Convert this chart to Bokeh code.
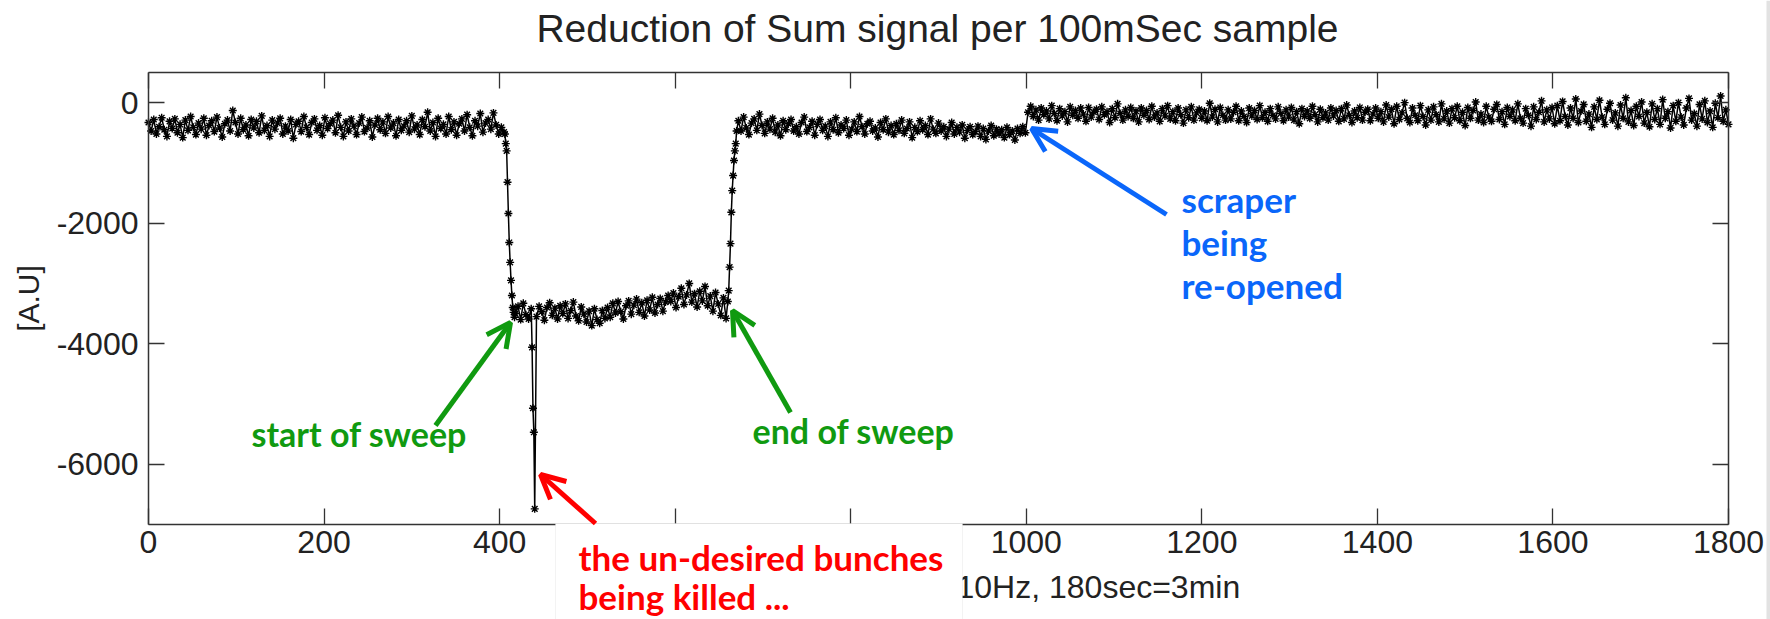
from bokeh.plotting import figure
from bokeh.models import LinearAxis, FixedTicker, Label, Arrow, OpenHead, Range1d, BoxAnnotation
from bokeh.embed import file_html
from bokeh.resources import INLINE
import math

# ---------------- data (Sum signal reduction per sample) -------------
x_ticks = [0, 200, 400, 600, 800, 1000, 1200, 1400, 1600, 1800]
y_ticks = [-6000, -4000, -2000, 0]
y_tick_labels = ["-6000", "-4000", "-2000", "0"]

# samples 0..405, every 3rd sample
before_sweep = [
    -330, -470, -280, -520, -400, -250, -450, -560, -310, -430,
    -270, -500, -360, -580, -290, -460, -230, -410, -530, -340,
    -440, -260, -540, -380, -300, -480, -240, -420, -570, -350,
    -290, -470, -130, -330, -520, -260, -450, -370, -550, -280,
    -420, -310, -500, -220, -460, -380, -560, -290, -440, -340,
    -260, -520, -390, -470, -280, -590, -360, -310, -480, -230,
    -410, -530, -330, -270, -460, -380, -540, -250, -430, -350,
    -290, -500, -210, -410, -560, -320, -470, -270, -390, -530,
    -340, -240, -480, -420, -300, -570, -370, -260, -450, -320,
    -510, -230, -420, -340, -550, -280, -460, -390, -300, -490,
    -220, -440, -370, -530, -280, -400, -160, -470, -330, -560,
    -260, -430, -360, -520, -230, -450, -320, -540, -350, -270,
    -470, -200, -410, -550, -300, -390, -180, -490, -340, -280,
    -440, -170, -370, -520, -410, -490,
]
# samples 406..417, start of sweep
sweep_drop = [-520, -680, -800, -1320, -1840, -2320, -2650, -2950, -3200, -3400, -3480, -3560]
# samples 418..436, every 3rd sample
sweep_floor_a = [-3500, -3380, -3600, -3330, -3520, -3590, -3420]
# samples 437..440, un-desired bunches being killed
killed_spike = [-4060, -5070, -5470, -6740]
# samples 442..658, every 3rd sample
sweep_floor_b = [
    -3550, -3380, -3470, -3610, -3400, -3320, -3530, -3410, -3590, -3370,
    -3500, -3340, -3580, -3450, -3310, -3540, -3620, -3390, -3510,
    -3640, -3460, -3700, -3420, -3600, -3660, -3450, -3580,
    -3400, -3560, -3330, -3490, -3300, -3470, -3590, -3370, -3290, -3510,
    -3360, -3260, -3480, -3320, -3540, -3280, -3440, -3230, -3490, -3350,
    -3250, -3460, -3310, -3200,
    -3300, -3160, -3400, -3220, -3080, -3350, -3190, -3000, -3310, -3170,
    -3390, -3130, -3290, -3050, -3370, -3210, -3460, -3150, -3340, -3530,
    -3240, -3580,
]
# samples 660..670, end of sweep
sweep_rise = [-3300, -3120, -2730, -2340, -1820, -1460, -1210, -960, -800, -680, -470]
# samples 672..999, every 3rd sample
after_sweep = [
    -300, -470, -240, -420, -530, -340, -270, -460, -190, -380,
    -510, -320, -440, -260, -490, -370, -550, -300, -450, -350,
    -280, -470, -400, -520, -330, -240, -480, -410, -310, -540,
    -360, -280, -460, -390, -560, -320, -450, -250, -500, -370,
    -430, -290, -540, -440, -320, -480, -230, -400, -520, -350,
    -310, -470, -420, -570, -330, -450, -270, -490, -380, -530,
    -350, -460, -290, -510, -430, -320, -580, -410, -480, -300,
    -450, -380, -530, -270, -440, -510, -340, -470, -400, -560,
    -440, -330, -520, -410, -490, -370, -590, -460, -400, -530,
    -480, -390, -560, -430, -610, -470, -380, -550, -440, -520,
    -450, -580, -410, -530, -470, -620, -430, -510, -400, -500,
]
# samples 1002..1800, every 3rd sample (scraper re-opened)
scraper_open = [
    -160, -60, -230, -120, -290, -90, -200, -140, -270, -50,
    -180, -300, -100, -220, -150, -320, -70, -210, -130, -260,
    -90, -190, -310, -80, -240, -160, -110, -280, -70, -200,
    -150, -330, -100, -250, -20, -180, -290, -120, -230, -80,
    -260, -140, -320, -90, -210, -130, -280, -60, -240, -170,
    -310, -100, -220, -50, -270, -150, -300, -90, -200, -340,
    -120, -250, -70, -290, -170, -110, -260,
    -140, -300, -10, -240, -110, -320, -80, -210, -290, -120,
    -270, -160, -60, -300, -140, -230, -330, -90, -220, -130,
    -280, -50, -250, -160, -310, -100, -210, -270, -70, -180,
    -300, -120, -240, -80, -290, -150, -350, -100, -230, -140,
    -260, -60, -200, -320, -110, -250, -170, -290, -90, -220,
    -130, -310, -100, -270, -40, -210, -330, -140, -250, -80,
    -290, -160, -110, -300, -190, -90, -260,
    -150, -320, -40, -240, -110, -350, -60, -280, -170, 0,
    -260, -330, -90, -210, -300, -50, -230, -370, -120, -290,
    -70, -200, -320, -20, -270, -140, -340, -100, -250, -60,
    -300, -160, -380, -80, -260, -130, 10, -290, -190, -330,
    -60, -240, -310, -110, -30, -280, -150, -360, -80, -230,
    -120, -300, -20, -260, -340, -100, -210, -390, -70, -280,
    -160, 30, -320, -120, -270, -80, -350,
    -50, -300, 20, -230, -370, -90, -260, 60, -330, -140,
    -30, -310, -190, -410, -70, -280, 40, -240, -360, -110,
    -10, -290, -170, -390, -40, -260, 80, -320, -130, -380,
    -60, -230, 10, -340, -160, -400, -20, -280, -100, -360,
    50, -260, -150, -420, -50, -310, 0, -240, -370, -90,
    70, -290, -180, -390, -30, -270, 30, -330, -140, -410,
    -10, -250, 110, -310, -120, -360,
]

segments = [
    (0, 3, before_sweep),
    (406, 1, sweep_drop),
    (418, 3, sweep_floor_a),
    (437, 1, killed_spike),
    (442, 3, sweep_floor_b),
    (660, 1, sweep_rise),
    (672, 3, after_sweep),
    (1002, 3, scraper_open),
]
xs, ys = [], []
for start, step, vals in segments:
    for i, v in enumerate(vals):
        xs.append(start + step * i)
        ys.append(v)

# ---------------- layout geometry -------------
X0, X1, Y0, Y1 = 0, 1800, -7000, 500          # axes box, data units
FL, FR, FT, FB = 148, 1728, 72, 524           # axes box, pixels
W, H = 1770, 619

def dx(px):
    return X0 + (px - FL) / (FR - FL) * (X1 - X0)

def dy(py):
    return Y1 - (py - FT) / (FB - FT) * (Y1 - Y0)

AX_FONT = "Liberation Sans"
TICK_COLOR = "#222222"
AXIS_COLOR = "#333333"

# the plotting frame covers the whole canvas; the axes are drawn at fixed locations
p = figure(width=W, height=H, x_range=Range1d(dx(0), dx(W)), y_range=Range1d(dy(H), dy(0)),
           output_backend="svg", toolbar_location=None,
           x_axis_location=None, y_axis_location=None, min_border=0)
p.background_fill_color = "white"
p.border_fill_color = "white"
p.outline_line_color = None
p.grid.visible = False

def make_axis(ticks, loc, bounds, show_labels, standoff=0):
    ax = LinearAxis(ticker=FixedTicker(ticks=ticks), fixed_location=loc, bounds=bounds)
    ax.major_tick_in = 16
    ax.major_tick_out = 0
    ax.minor_tick_line_color = None
    ax.axis_line_color = AXIS_COLOR
    ax.axis_line_width = 1.5
    ax.major_tick_line_color = AXIS_COLOR
    ax.major_tick_line_width = 1.3
    ax.major_label_text_font = AX_FONT
    ax.major_label_standoff = standoff
    if show_labels:
        ax.major_label_text_color = TICK_COLOR
        ax.major_label_text_font_size = "32px"
    else:
        ax.major_label_text_color = None
        ax.major_label_text_alpha = 0
    return ax

bottom_ax = make_axis(x_ticks, Y0, (X0, X1), True, 6)
bottom_ax.major_label_overrides = {600: "", 800: ""}
p.add_layout(bottom_ax, "below")

left_ax = make_axis(y_ticks, X0, (Y0, Y1), True, 10)
left_ax.major_label_overrides = dict(zip(y_ticks, y_tick_labels))
p.add_layout(left_ax, "left")

p.add_layout(make_axis(x_ticks, Y1, (X0, X1), False), "above")
p.add_layout(make_axis(y_ticks, X1, (Y0, Y1), False), "right")

# signal
p.line(xs, ys, line_color="black", line_width=1.5)
p.scatter(xs, ys, marker="asterisk", size=8, line_color="black", line_width=1.4)

# plot texts
def text(txt, px, py, size, color=TICK_COLOR, font=AX_FONT, align="left", baseline="middle",
         bold=False, angle=0.0, level="annotation"):
    p.add_layout(Label(x=dx(px), y=dy(py), text=txt, text_align=align, text_baseline=baseline,
                       text_font=font, text_font_size=size, text_color=color, angle=angle,
                       text_font_style="bold" if bold else "normal", level=level))

text("Reduction of Sum signal per 100mSec sample", 937, 28, "39px", align="center")
text("[A.U]", 28, 298, "30px", align="center", angle=math.pi / 2)
text("10Hz, 180sec=3min", 956, 586, "32px")

# thin grey edge at the right of the picture
p.add_layout(BoxAnnotation(left=dx(1766), right=dx(W + 2), fill_color="#e2e2e2",
                           fill_alpha=1.0, line_color=None))

# white box (with its note) that hides part of the x axis
p.add_layout(BoxAnnotation(left=dx(555), right=dx(962), top=dy(523), bottom=dy(H + 5),
                           fill_color="white", fill_alpha=1.0, line_color="#d6d6d6",
                           line_width=1, level="annotation"))

GREEN = "#109A10"
BLUE = "#0A66FA"
RED = "#FF0000"
ANN_FONT = "Lato"

def arrow(tx, ty, hx, hy, color):
    p.add_layout(Arrow(x_start=dx(tx), y_start=dy(ty), x_end=dx(hx), y_end=dy(hy),
                       line_color=color, line_width=5,
                       end=OpenHead(size=24, line_width=5, line_color=color), level="overlay"))

text("start of sweep", 251, 433, "34px", GREEN, ANN_FONT, baseline="alphabetic", bold=True, level="overlay")
text("end of sweep", 752, 430, "34px", GREEN, ANN_FONT, baseline="alphabetic", bold=True, level="overlay")
text("scraper", 1181, 198, "35px", BLUE, ANN_FONT, baseline="alphabetic", bold=True, level="overlay")
text("being", 1181, 241, "35px", BLUE, ANN_FONT, baseline="alphabetic", bold=True, level="overlay")
text("re-opened", 1181, 284, "35px", BLUE, ANN_FONT, baseline="alphabetic", bold=True, level="overlay")
text("the un-desired bunches", 578, 556, "35px", RED, ANN_FONT, baseline="alphabetic", bold=True, level="overlay")
text("being killed ...", 578, 595, "35px", RED, ANN_FONT, baseline="alphabetic", bold=True, level="overlay")

arrow(435, 425, 510, 322, GREEN)
arrow(790, 412, 732, 310, GREEN)
arrow(1166, 214, 1031, 128, BLUE)
arrow(595, 523, 540, 474, RED)

open("out.html", "w").write(file_html(p, INLINE))
